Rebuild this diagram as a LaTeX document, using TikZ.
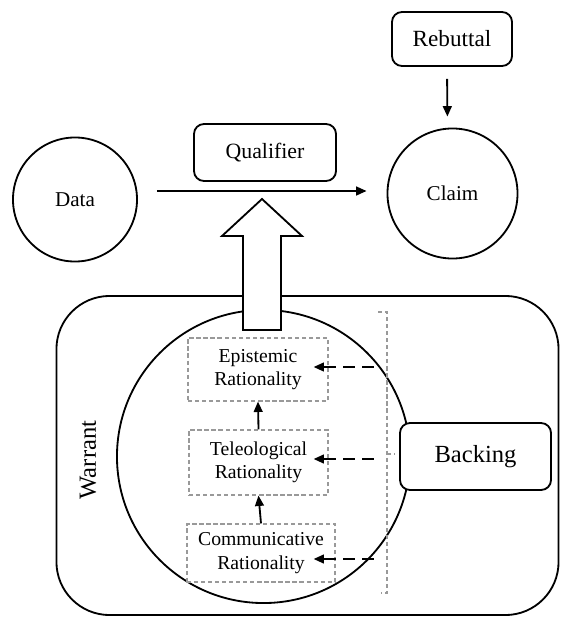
\documentclass[tikz,border=0pt]{standalone}
\usepackage{fontspec}
\setmainfont{Liberation Serif}
\usetikzlibrary{arrows.meta, calc}

\begin{document}
\begin{tikzpicture}[
    x=0.025cm, y=-0.025cm,
    line width=1.3pt,
    round/.style={circle, draw, minimum size=3.1cm, font=\fontsize{15}{18}\selectfont},
    block/.style={rectangle, draw, fill=white, rounded corners=0.25cm, font=\fontsize{15.5}{18}\selectfont},
    ratio/.style={rectangle, draw=gray!80, dash pattern=on 3pt off 2pt, line width=0.8pt, align=center, font=\fontsize{14}{16.5}\selectfont},
    arrow/.style={-{Triangle[length=2.6mm, width=2.2mm]}},
    dasharrow/.style={-{Triangle[length=2.6mm, width=2.2mm]}, dash pattern=on 8.5pt off 5pt, line width=1.4pt},
    brace/.style={draw=gray!80, dash pattern=on 3pt off 2pt, line width=0.8pt},
]
\useasboundingbox (0,0) rectangle (560,618);

% top row
\node[round] (data) at (75,199.5) {Data};
\node[round, minimum size=3.25cm] (claim) at (452.5,193.5) {Claim};
\node[block, minimum width=3.55cm, minimum height=1.425cm] (qual) at (265,152.5) {Qualifier};
\node[block, minimum width=3cm, minimum height=1.35cm, font=\fontsize{16.5}{19}\selectfont] (rebut) at (452,39) {Rebuttal};

% warrant
\node[draw, rounded corners=1.33cm, minimum width=12.55cm, minimum height=7.975cm] (warrant) at (307.5,455.5) {};
\node[rotate=90, font=\fontsize{17.5}{20}\selectfont] (wlabel) at (88,460) {Warrant};
\node[circle, draw, minimum size=7.325cm] (ring) at (263.5,456.5) {};
\node[block, minimum width=3.775cm, minimum height=1.675cm, font=\fontsize{17.5}{20}\selectfont] (backing) at (475.5,456.5) {Backing};

\node[ratio, minimum width=3.5cm, minimum height=1.575cm] (epi) at (258,369.5) {Epistemic\\Rationality};
\node[ratio, minimum width=3.475cm, minimum height=1.625cm] (tele) at (258.5,462.5) {Teleological\\Rationality};
\node[ratio, minimum width=3.7cm, minimum height=1.45cm] (comm) at (261,553) {Communicative\\Rationality};

% big arrow to qualifier
\draw[fill=white] (243,330) -- (243,236) -- (222,236) -- (262,199) -- (302,236) -- (281,236) -- (281,330) -- cycle;

% bracket
\draw[brace] (378,312) -- (387,312) -- (387,593) -- (381,593);
\draw[brace] (387,454) -- (395,454);

\draw[arrow] ($(data.east)+(19,-8.5)$) -- ($(claim.west)+(-20,-2.5)$);
\draw[arrow, shorten <=0.3cm, shorten >=0.275cm] ($(rebut.south)+(-5,0)$) -- ($(claim.north)+(-5,0)$);
\draw[arrow] (tele.north) -- (epi.south);
\draw[arrow] (comm.north) -- (tele.south);
\draw[dasharrow] ($(epi.east)+(45,-2.5)$) -- ($(epi.east)+(-15,-2.5)$);
\draw[dasharrow] ($(tele.east)+(45,-3.5)$) -- ($(tele.east)+(-15,-3.5)$);
\draw[dasharrow] ($(comm.east)+(38,6)$) -- ($(comm.east)+(-22,6)$);
\end{tikzpicture}
\end{document}
